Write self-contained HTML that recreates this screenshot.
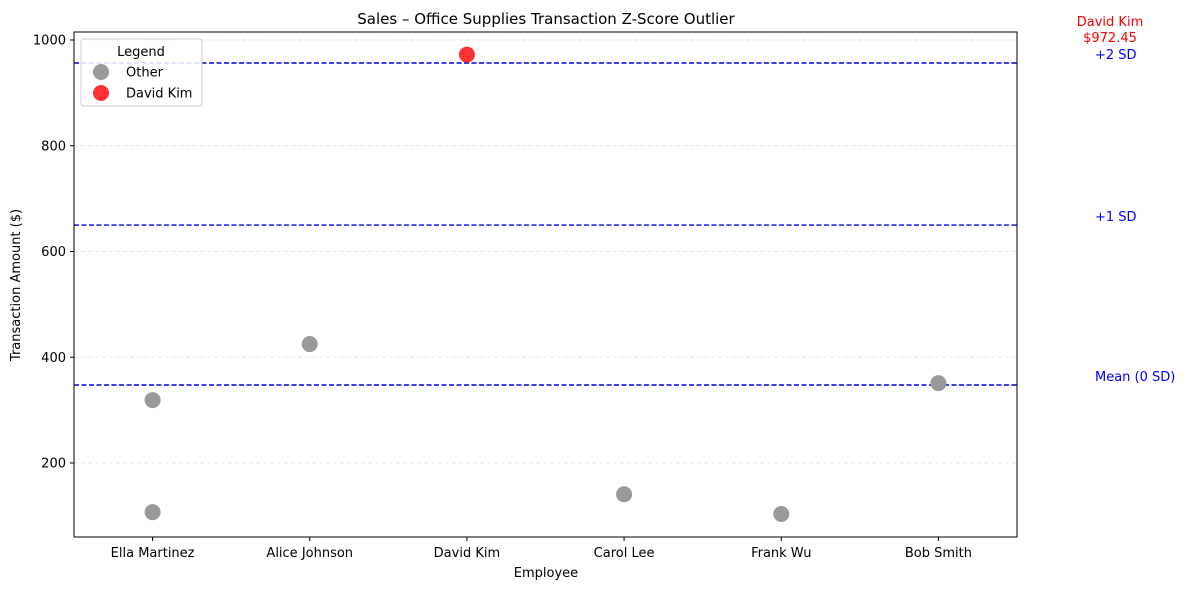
<!DOCTYPE html>
<html><head><meta charset="utf-8"><style>
body{margin:0;background:#fff;}
svg{font-family:"DejaVu Sans","Liberation Sans",sans-serif;}
</style></head><body>
<svg id="c" width="1191" height="590" xmlns="http://www.w3.org/2000/svg">
<rect width="1191" height="590" fill="#fff"/>
<text x="546" y="24" text-anchor="middle" font-size="15">Sales – Office Supplies Transaction Z-Score Outlier</text>
<g id="grid"></g><g id="lines"></g><g id="pts"></g><g id="axes"></g>
</svg>
<script>
const categories=["Ella Martinez","Alice Johnson","David Kim","Carol Lee","Frank Wu","Bob Smith"];
const pointCats=[0,0,1,2,3,4,5];
const pointVals=[319,107,425,972.45,141,103.5,351];
const outlierIdx=[3];
const yTicks=[200,400,600,800,1000];
const refVals=[347.5,650,956.5];
const refLabels=["Mean (0 SD)","+1 SD","+2 SD"];
const L=74,R=1017,T=32,B=537;
const NS="http://www.w3.org/2000/svg";
const xs=i=>L+(i+0.5)*(R-L)/categories.length;
const ys=v=>463-(v-200)*0.52875;
function mk(p,t,a){const e=document.createElementNS(NS,t);for(const k in a)e.setAttribute(k,a[k]);document.getElementById(p).appendChild(e);return e;}
yTicks.forEach(v=>{
 const g=mk('grid','line',{x1:L,x2:R,y1:ys(v),y2:ys(v),stroke:'#e3e3e3','stroke-dasharray':'4,3'});
 
 
 const t=mk('axes','line',{x1:L-4,x2:L,y1:ys(v),y2:ys(v),stroke:'#000'});
 
 
 const l=mk('axes','text',{x:L-8,y:ys(v)+4.5,'text-anchor':'end','font-size':'13'});l.textContent=v;
 
 
});
refVals.forEach((v,i)=>{
 const ln=mk('lines','line',{x1:L,x2:R,y1:ys(v),y2:ys(v),stroke:'#0000ee','stroke-width':1.4,'stroke-dasharray':'5,2.5'});
 
 
 const t=mk('lines','text',{x:1095,y:ys(v)-4,'font-size':'13',fill:'#0000ff'});t.textContent=refLabels[i];
 
 
});
pointVals.forEach((v,i)=>{
 const o=outlierIdx.includes(i);
 const c=mk('pts','circle',{cx:xs(pointCats[i]),cy:ys(v),r:8,fill:o?'#ff3333':'#999999'});
 
 
 if(o){
  const a=mk('pts','text',{x:1110,y:26,'text-anchor':'middle','font-size':'13',fill:'#ff0000'});a.textContent=categories[pointCats[i]];
  
  
  const b=mk('pts','text',{x:1110,y:42,'text-anchor':'middle','font-size':'13',fill:'#ff0000'});b.textContent='$'+v.toFixed(2);
  
  
 }
});
categories.forEach((c,i)=>{
 const t=mk('axes','line',{x1:xs(i),x2:xs(i),y1:B,y2:B+4,stroke:'#000'});
 
 
 const l=mk('axes','text',{x:xs(i),y:B+20,'text-anchor':'middle','font-size':'13'});l.textContent=c;
 
 
});
const fr=mk('axes','rect',{x:L,y:T,width:R-L,height:B-T,fill:'none',stroke:'#000','stroke-width':1});


const xt=mk('axes','text',{x:546,y:577,'text-anchor':'middle','font-size':'13'});xt.textContent='Employee';


const yt=mk('axes','text',{x:20,y:285,'text-anchor':'middle','font-size':'13',transform:'rotate(-90 20 285)'});yt.textContent='Transaction Amount ($)';


// legend
const lg=mk('axes','g',{});


mk('axes','rect',{x:81,y:39,width:121,height:67,rx:3,fill:'#fff','fill-opacity':0.85,stroke:'#ccc'});
const lt=mk('axes','text',{x:141,y:56,'text-anchor':'middle','font-size':'13'});lt.textContent='Legend';


[['Other','#999999',72],['David Kim','#ff3333',93]].forEach(([n,col,y])=>{
 const c=mk('axes','circle',{cx:101,cy:y,r:8,fill:col});
 
 
 const t=mk('axes','text',{x:126,y:y+4.5,'font-size':'13'});t.textContent=n;
 
 
});
</script>
</body></html>
